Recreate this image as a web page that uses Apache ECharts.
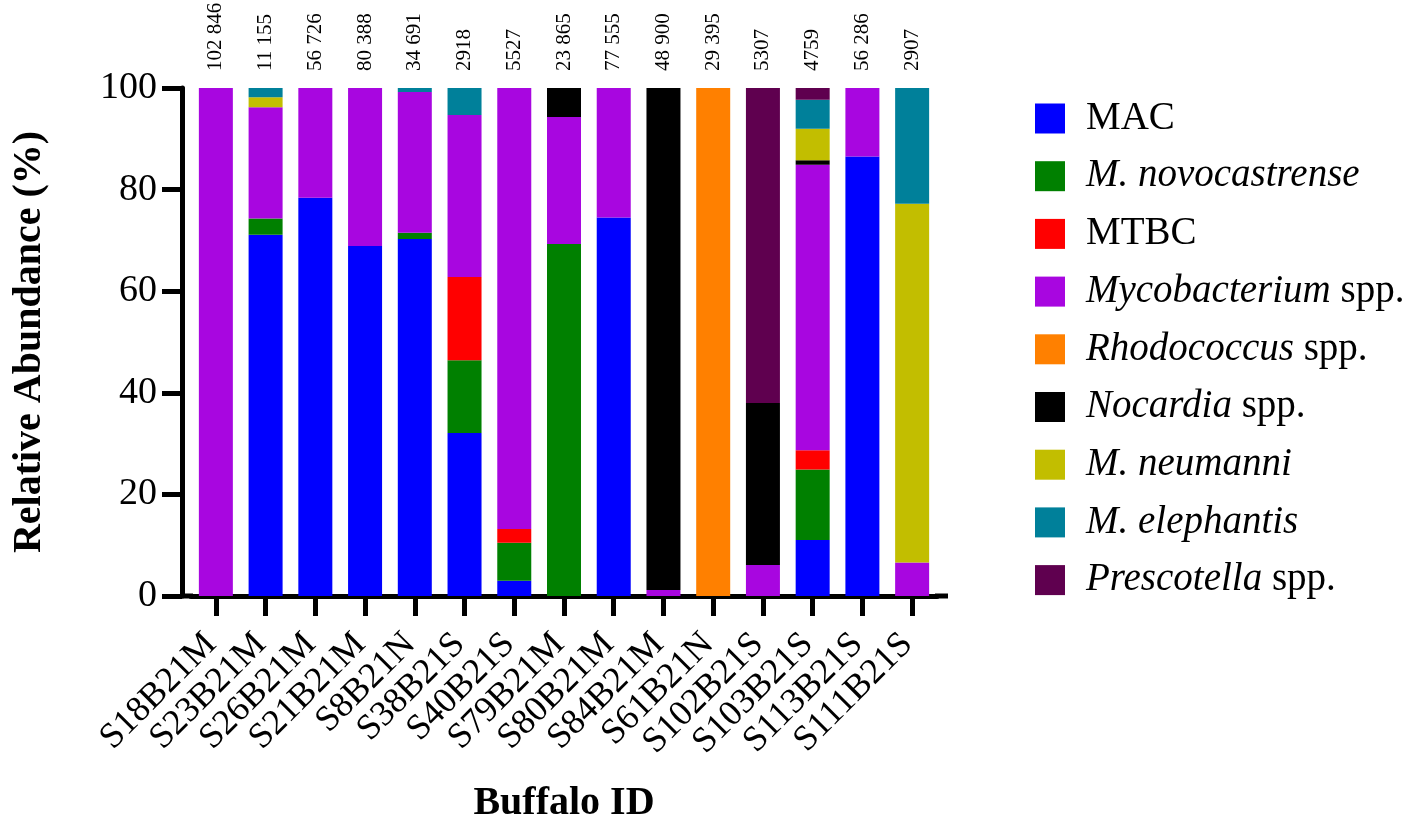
<!DOCTYPE html>
<html>
<head>
<meta charset="utf-8">
<script src="https://cdn.jsdelivr.net/npm/echarts@6/dist/echarts.min.js"></script>
<style>
  html, body { margin: 0; padding: 0; background: #fff; }
  #main { width: 1417px; height: 826px; }
</style>
</head>
<body>
<div id="main"></div>
<script>
// sample IDs and read counts (printed above each bar)
var buffaloIds = ['S18B21M', 'S23B21M', 'S26B21M', 'S21B21M', 'S8B21N', 'S38B21S', 'S40B21S', 'S79B21M',
  'S80B21M', 'S84B21M', 'S61B21N', 'S102B21S', 'S103B21S', 'S113B21S', 'S111B21S'];
var readCounts = ['102 846', '11 155', '56 726', '80 388', '34 691', '2918', '5527', '23 865',
  '77 555', '48 900', '29 395', '5307', '4759', '56 286', '2907'];
var yTicks = [0, 20, 40, 60, 80, 100];

// relative abundance (%) per taxon, stacked bottom to top
var mac         = [0, 71.1, 78.4, 68.9, 70.3, 32.1, 3.0, 0, 74.5, 0, 0, 0, 11.0, 86.5, 0];
var novocast    = [0, 3.2, 0, 0, 1.2, 14.3, 7.5, 69.3, 0, 0, 0, 0, 13.9, 0, 0];
var mtbc        = [0, 0, 0, 0, 0, 16.4, 2.7, 0, 0, 0, 0, 0, 3.8, 0, 0];
var mycoSpp     = [100, 21.9, 21.6, 31.1, 27.7, 31.9, 86.8, 25.0, 25.5, 1.2, 0, 6.1, 56.2, 13.5, 6.6];
var rhodoSpp    = [0, 0, 0, 0, 0, 0, 0, 0, 0, 0, 100, 0, 0, 0, 0];
var nocardiaSpp = [0, 0, 0, 0, 0, 0, 0, 5.7, 0, 98.8, 0, 31.9, 0.9, 0, 0];
var neumanni    = [0, 2.0, 0, 0, 0, 0, 0, 0, 0, 0, 0, 0, 6.2, 0, 70.6];
var elephantis  = [0, 1.8, 0, 0, 0.8, 5.3, 0, 0, 0, 0, 0, 0, 5.7, 0, 22.8];
var prescSpp    = [0, 0, 0, 0, 0, 0, 0, 0, 0, 0, 0, 62.0, 2.3, 0, 0];

var FONT = '"Liberation Serif", "Times New Roman", serif';

var taxa = [
  { name: 'MAC', label: 'MAC', color: '#0000FF', data: mac },
  { name: 'M. novocastrense', label: '{i|M. novocastrense}', color: '#008000', data: novocast },
  { name: 'MTBC', label: 'MTBC', color: '#FF0000', data: mtbc },
  { name: 'Mycobacterium spp.', label: '{i|Mycobacterium} spp.', color: '#A806E0', data: mycoSpp },
  { name: 'Rhodococcus spp.', label: '{i|Rhodococcus} spp.', color: '#FF8000', data: rhodoSpp },
  { name: 'Nocardia spp.', label: '{i|Nocardia} spp.', color: '#000000', data: nocardiaSpp },
  { name: 'M. neumanni', label: '{i|M. neumanni}', color: '#C2BE00', data: neumanni },
  { name: 'M. elephantis', label: '{i|M. elephantis}', color: '#00809A', data: elephantis },
  { name: 'Prescotella spp.', label: '{i|Prescotella} spp.', color: '#5F004F', data: prescSpp }
];
var legendText = {};
taxa.forEach(function (t) { legendText[t.name] = t.label; });

var series = taxa.map(function (t) {
  return {
    name: t.name,
    type: 'bar',
    stack: 'total',
    barWidth: 34,
    itemStyle: { color: t.color },
    data: t.data
  };
});

var chart = echarts.init(document.getElementById('main'));
chart.setOption({
  backgroundColor: '#ffffff',
  animation: false,
  textStyle: { fontFamily: FONT, color: '#000' },
  grid: { left: 191, right: 480, top: 88, bottom: 230, containLabel: false, outerBoundsMode: 'none' },
  legend: {
    orient: 'vertical',
    left: 1030,
    top: 94,
    itemWidth: 30,
    itemHeight: 30,
    itemGap: 18.7,
    icon: 'rect',
    formatter: function (n) { return legendText[n]; },
    textStyle: {
      fontFamily: FONT, fontSize: 39, color: '#000',
      padding: [0, 0, 0, 16],
      rich: { i: { fontFamily: FONT, fontSize: 39, fontStyle: 'italic', color: '#000' } }
    },
    data: taxa.map(function (t) { return t.name; })
  },
  xAxis: [{
    type: 'category',
    data: buffaloIds,
    name: 'Buffalo ID',
    nameLocation: 'middle',
    nameGap: 188,
    nameTextStyle: { fontFamily: FONT, fontSize: 40, fontWeight: 'bold', color: '#000' },
    axisLine: { show: true, lineStyle: { color: '#000', width: 5 } },
    axisTick: { show: true, alignWithLabel: true, length: 20, lineStyle: { color: '#000', width: 5 } },
    axisLabel: {
      interval: 0, rotate: 45, margin: 38, padding: [0, 7, 0, 0],
      fontFamily: FONT, fontSize: 36, color: '#000'
    }
  }, {
    type: 'category',
    position: 'top',
    data: buffaloIds,
    axisLine: { show: false },
    axisTick: { show: false },
    axisLabel: {
      interval: 0, rotate: -90, margin: 17, fontFamily: FONT, fontSize: 21, color: '#000',
      formatter: function (v, i) { return readCounts[i]; }
    }
  }],
  yAxis: {
    type: 'value',
    min: 0,
    max: 100,
    interval: 20,
    offset: 9,
    name: 'Relative Abundance (%)',
    nameLocation: 'middle',
    nameGap: 132,
    nameRotate: 90,
    nameTextStyle: { fontFamily: FONT, fontSize: 40, fontWeight: 'bold', color: '#000' },
    splitLine: { show: false },
    axisLine: { show: true, lineStyle: { color: '#000', width: 5 } },
    axisTick: { show: true, length: 20, lineStyle: { color: '#000', width: 5 } },
    axisLabel: {
      margin: 25, fontFamily: FONT, fontSize: 38, color: '#000',
      formatter: function (v) { return yTicks.indexOf(v) >= 0 ? String(v) : ''; }
    }
  },
  graphic: [
    { type: 'line', shape: { x1: 180, y1: 596, x2: 193, y2: 596 }, style: { stroke: '#000', lineWidth: 5 } },
    { type: 'line', shape: { x1: 935, y1: 596, x2: 948, y2: 596 }, style: { stroke: '#000', lineWidth: 5 } }
  ],
  series: series
});
</script>
</body>
</html>
